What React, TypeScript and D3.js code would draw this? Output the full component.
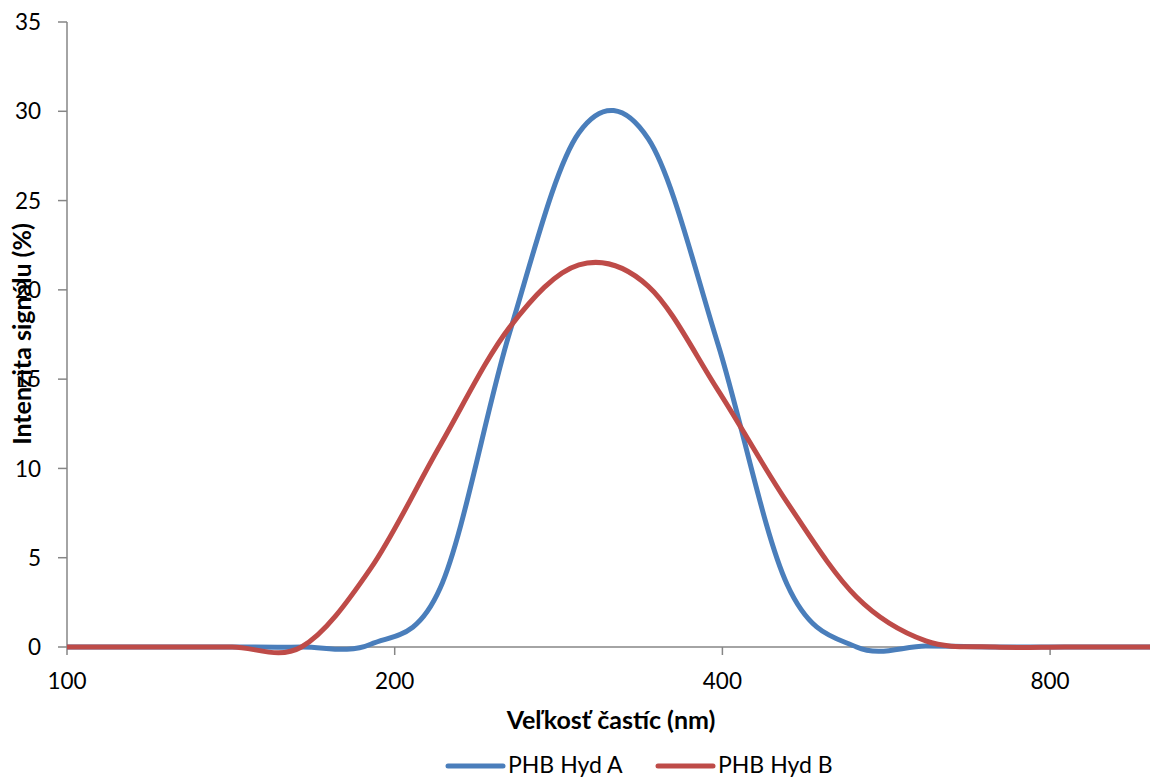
import React from "react";
import * as d3 from "d3";

// Particle-size bins (nm) and intensity distributions (%)
const sizes = [91.28, 105.7, 122.4, 141.8, 164.2, 190.1, 220.2, 255.0, 295.3, 342.0, 396.1, 458.7, 531.2, 615.1, 712.4, 825.0, 955.4, 1106];
const hydA = [0, 0, 0, 0, 0, 0.15, 3.3, 17.6, 28.8, 28.45, 17.0, 3.5, 0, 0.05, 0, 0, 0, 0];
const hydB = [0, 0, 0, 0, 0, 4.4, 11.3, 17.9, 21.4, 20.2, 14.4, 8.1, 2.8, 0.34, 0, 0, 0, 0];

const seriesNames = ["PHB Hyd A", "PHB Hyd B"];
const seriesColors = ["#4A7EBB", "#BE4B48"];

const xTicks = [100, 200, 400, 800];
const yTicks = [0, 5, 10, 15, 20, 25, 30, 35];

const W = 1150;
const H = 780;
const FONT = "Lato, 'Open Sans', sans-serif";

export default function App() {
  const left = 67;
  const top = 22;
  const bottom = 647;
  const octave = 327.7;

  const x = d3
    .scaleLog()
    .domain([100, 1000])
    .range([left, left + octave * Math.log2(10)]);
  const y = d3.scaleLinear().domain([0, 35]).range([bottom, top]);

  // smoothed line through the bin values
  const line = d3
    .line<[number, number]>()
    .x((d) => x(d[0]))
    .y((d) => y(d[1]))
    .curve(d3.curveCatmullRom.alpha(0));

  const series = [hydA, hydB].map((vals) =>
    sizes.map((s, i) => [s, vals[i]] as [number, number])
  );

  const axisColor = "#868686";

  return (
    <svg
      width={W}
      height={H}
      style={{ position: "absolute", left: 0, top: 0, background: "#fff" }}
      fontFamily={FONT}
    >
      <defs>
        <clipPath id="plotClip">
          <rect x={left} y={0} width={W - left} height={H} />
        </clipPath>
      </defs>

      {/* y axis */}
      <line x1={left} x2={left} y1={top} y2={bottom} stroke={axisColor} strokeWidth={1.5} />
      {yTicks.map((t) => (
        <g key={"y" + t}>
          <line x1={left - 9} x2={left} y1={y(t)} y2={y(t)} stroke={axisColor} strokeWidth={1.5} />
          <text x={41} y={y(t)} dy="0.36em" textAnchor="end" fontSize={22.5} fill="#000">
            {t}
          </text>
        </g>
      ))}

      {/* x axis */}
      <line x1={left} x2={W} y1={bottom} y2={bottom} stroke={axisColor} strokeWidth={1.5} />
      {xTicks.map((t) => (
        <g key={"x" + t}>
          <line x1={x(t)} x2={x(t)} y1={bottom} y2={bottom + 8} stroke={axisColor} strokeWidth={1.5} />
          <text x={x(t)} y={689} textAnchor="middle" fontSize={22.5} fill="#000">
            {t}
          </text>
        </g>
      ))}

      {/* series */}
      <g clipPath="url(#plotClip)">
        {series.map((pts, i) => (
          <path
            key={seriesNames[i]}
            d={line(pts) || ""}
            fill="none"
            stroke={seriesColors[i]}
            strokeWidth={5}
            strokeLinejoin="round"
          />
        ))}
      </g>

      {/* axis titles */}
      <text x={611} y={729} textAnchor="middle" fontSize={25} fontWeight="bold" fill="#000">
        Veľkosť častíc (nm)
      </text>
      <text
        transform="translate(31,334) rotate(-90)"
        textAnchor="middle"
        fontSize={25}
        fontWeight="bold"
        fill="#000"
      >
        Intenzita signálu (%)
      </text>

      {/* legend */}
      {seriesNames.map((name, i) => {
        const lx = i === 0 ? 448 : 658;
        return (
          <g key={"leg" + name}>
            <line
              x1={lx}
              x2={lx + 55}
              y1={766}
              y2={766}
              stroke={seriesColors[i]}
              strokeWidth={5}
              strokeLinecap="round"
            />
            <text x={lx + 60} y={773} fontSize={23} fill="#000">
              {name}
            </text>
          </g>
        );
      })}
    </svg>
  );
}
